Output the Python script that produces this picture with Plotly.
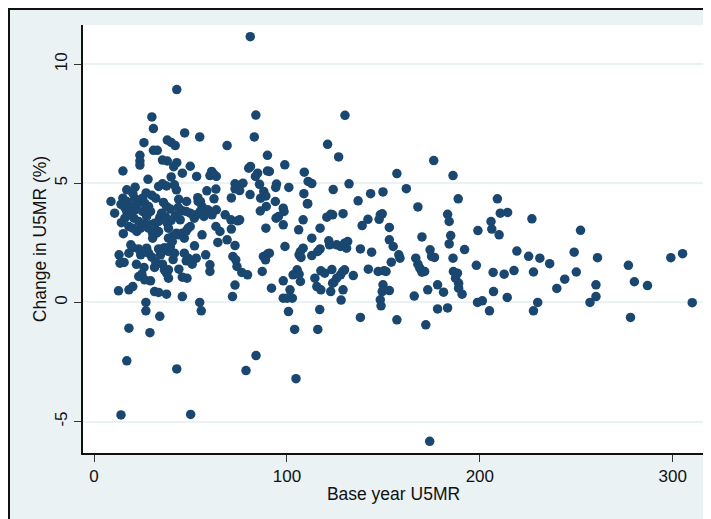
import plotly.graph_objects as go

# Base year under-5 mortality rate (x) and change in U5MR in % (y)
base_u5mr = [
    81.0, 42.9, 30.0, 83.9, 130.1, 30.8, 47.0, 54.8, 83.1, 25.9,
    38.0, 40.0, 42.1, 69.0, 121.1, 30.8, 32.8, 23.8, 23.8, 23.8,
    126.8, 89.9, 35.5, 38.0, 42.9, 41.3, 49.9, 98.9, 176.1, 80.2,
    81.1, 15.0, 45.8, 53.2, 61.0, 62.2, 60.1, 63.4, 84.8, 83.7,
    89.9, 90.9, 109.0, 157.0, 186.1, 40.0, 28.0, 85.8, 111.0, 112.9,
    132.2, 73.1, 75.1, 77.2, 73.1, 75.5, 21.3, 17.0, 33.5, 35.5,
    37.6, 41.7, 42.7, 58.5, 63.2, 94.6, 94.2, 101.0, 124.0, 143.4,
    149.8, 161.9, 80.9, 88.0, 89.1, 108.8, 110.8, 86.4, 71.2, 62.2,
    32.0, 48.0, 43.9, 53.8, 55.2, 136.9, 188.8, 209.1, 8.8, 14.0,
    16.0, 19.1, 25.2, 23.2, 26.3, 94.0, 89.3, 86.2, 98.1, 98.5,
    110.6, 167.9, 10.7, 17.0, 19.1, 21.1, 37.6, 39.6, 43.7, 45.8,
    47.8, 49.9, 56.0, 54.0, 34.1, 42.1, 44.7, 63.4, 61.2, 60.1,
    68.0, 71.0, 74.5, 75.5, 94.4, 95.6, 98.1, 108.4, 120.7, 122.7,
    123.7, 129.1, 148.4, 149.4, 147.8, 142.0, 139.0, 183.3, 184.1, 205.8,
    206.2, 210.6, 214.4, 227.0, 14.2, 15.2, 18.1, 20.1, 22.2, 26.3,
    28.3, 30.4, 32.4, 33.5, 38.0, 38.6, 40.6, 42.7, 45.8, 48.8,
    56.0, 63.2, 65.3, 71.2, 89.1, 106.1, 117.2, 153.1, 199.0, 252.2,
    210.0, 184.9, 184.1, 170.0, 153.1, 155.1, 112.9, 121.7, 122.1, 125.8,
    127.8, 129.9, 131.5, 130.9, 108.4, 107.0, 106.3, 107.3, 99.0, 117.2,
    116.0, 112.9, 64.2, 69.0, 73.1, 52.1, 19.1, 18.1, 13.0, 23.2,
    25.2, 24.2, 27.3, 28.3, 33.5, 34.5, 36.5, 38.6, 41.7, 39.6,
    46.8, 48.8, 47.8, 50.9, 53.0, 57.9, 72.0, 73.5, 74.1, 87.8,
    89.9, 90.9, 88.9, 138.1, 143.9, 166.8, 167.9, 168.9, 170.0, 171.4,
    174.2, 175.0, 176.5, 186.1, 192.1, 158.0, 158.6, 154.1, 219.2, 225.3,
    231.1, 236.2, 248.9, 261.0, 299.0, 305.1, 198.2, 277.0, 13.5, 15.6,
    25.9, 24.8, 23.2, 26.3, 29.3, 31.4, 35.5, 36.5, 38.6, 38.6,
    37.6, 45.8, 48.2, 60.1, 60.1, 76.6, 79.6, 87.2, 105.3, 106.3,
    107.0, 103.2, 98.1, 117.6, 119.6, 123.3, 127.8, 128.9, 129.9, 125.8,
    123.7, 114.5, 115.5, 117.6, 134.4, 142.2, 147.3, 150.4, 151.4, 149.8,
    150.4, 149.4, 153.1, 148.4, 148.8, 186.3, 188.4, 187.4, 189.0, 189.0,
    190.8, 206.9, 212.6, 217.7, 227.8, 250.0, 244.0, 280.1, 286.9, 260.2,
    260.2, 257.1, 239.9, 207.1, 214.2, 198.8, 201.3, 205.0, 230.0, 227.8,
    278.1, 310.1, 178.1, 181.2, 178.1, 183.3, 173.0, 166.0, 172.0, 157.0,
    138.1, 128.1, 129.1, 124.3, 122.7, 117.0, 116.0, 104.0, 100.8, 98.1,
    100.1, 102.8, 101.6, 92.0, 73.1, 71.8, 54.8, 55.6, 45.8, 31.4,
    33.5, 37.6, 26.9, 26.9, 34.1, 18.1, 29.0, 12.7, 18.1, 20.1,
    17.0, 42.9, 78.8, 84.0, 104.7, 14.0, 50.1, 174.0, 15.0, 17.0,
    21.1, 20.1, 22.2, 18.7, 20.7, 23.2, 16.0, 28.3, 29.3, 31.4,
    33.5, 25.2, 27.3, 24.2, 31.4, 30.4, 29.3, 38.6, 40.6, 43.7,
    46.8, 47.8, 49.9, 52.0, 53.0, 55.0, 57.0, 59.0, 35.0, 37.0,
    40.0, 36.0, 30.0, 27.0, 20.0, 22.0, 30.0, 32.0, 44.0, 41.0,
]

change_u5mr = [
    11.16, 8.94, 7.79, 7.87, 7.86, 7.30, 7.12, 6.95, 6.95, 6.71,
    6.82, 6.72, 6.59, 6.59, 6.64, 6.39, 6.39, 6.18, 5.94, 5.77,
    6.11, 6.18, 5.98, 5.94, 5.87, 5.70, 5.72, 5.78, 5.96, 5.64,
    5.71, 5.52, 5.43, 5.29, 5.50, 5.38, 5.33, 5.29, 5.43, 5.29,
    5.52, 5.50, 5.47, 5.41, 5.33, 5.27, 5.17, 4.96, 5.08, 4.99,
    4.98, 4.98, 4.91, 5.01, 4.77, 4.70, 4.84, 4.73, 4.87, 4.98,
    4.89, 4.94, 4.73, 4.69, 4.76, 4.97, 4.83, 4.83, 4.74, 4.57,
    4.64, 4.78, 4.53, 4.66, 4.47, 4.57, 4.15, 4.38, 4.39, 4.35,
    4.38, 4.24, 4.33, 4.40, 4.24, 4.27, 4.35, 4.35, 4.24, 4.12,
    3.98, 4.03, 4.38, 4.24, 4.17, 4.24, 4.03, 3.84, 3.96, 3.82,
    4.14, 4.01, 3.75, 3.82, 3.68, 3.89, 4.03, 3.92, 3.99, 3.85,
    3.82, 3.75, 4.03, 4.24, 3.57, 3.64, 3.47, 3.89, 3.68, 3.82,
    3.68, 3.47, 3.43, 3.47, 3.54, 3.61, 3.26, 3.47, 3.58, 3.70,
    3.68, 3.73, 3.68, 3.72, 3.49, 3.49, 3.23, 3.70, 3.40, 3.40,
    3.08, 3.75, 3.78, 3.51, 3.35, 2.89, 3.19, 3.12, 2.98, 3.28,
    3.12, 2.91, 2.91, 2.98, 3.33, 3.12, 2.77, 2.91, 2.91, 3.12,
    2.84, 3.19, 2.98, 3.08, 3.12, 3.05, 3.12, 3.15, 3.02, 3.03,
    2.84, 2.81, 2.46, 2.75, 2.63, 2.35, 2.70, 2.59, 2.42, 2.42,
    2.35, 2.49, 2.56, 2.28, 2.28, 2.14, 2.00, 1.89, 2.35, 2.25,
    2.14, 1.97, 2.52, 2.63, 2.39, 2.38, 2.42, 2.07, 2.00, 2.24,
    2.14, 2.00, 2.28, 2.07, 2.25, 2.00, 2.30, 2.14, 2.07, 2.35,
    2.07, 1.86, 1.75, 1.61, 1.86, 2.00, 1.93, 1.79, 1.51, 1.93,
    2.03, 2.07, 1.79, 2.25, 2.11, 1.86, 1.61, 1.44, 1.27, 1.30,
    2.21, 1.93, 1.89, 1.86, 2.22, 2.00, 1.86, 1.69, 2.16, 1.94,
    1.86, 1.63, 2.11, 1.88, 1.88, 2.05, 1.56, 1.56, 1.65, 1.68,
    1.47, 1.19, 1.09, 0.95, 0.91, 1.47, 1.61, 1.37, 1.37, 1.02,
    1.23, 1.06, 1.02, 1.58, 1.30, 1.26, 1.16, 1.30, 1.37, 1.19,
    0.88, 1.16, 0.91, 1.33, 1.23, 1.38, 1.16, 1.30, 1.37, 1.02,
    0.81, 1.02, 0.67, 0.53, 1.13, 1.40, 1.30, 1.33, 1.30, 0.74,
    0.53, 0.46, 0.50, 0.11, -0.14, 1.30, 1.23, 1.02, 0.81, 0.60,
    0.35, 1.26, 1.19, 1.34, 1.28, 1.28, 0.98, 0.87, 0.71, 0.74,
    0.25, 0.00, 0.59, 0.46, 0.21, 0.00, 0.07, -0.35, 0.00, -0.35,
    -0.63, -0.01, 0.74, 0.43, -0.27, -0.23, 0.53, 0.27, -0.94, -0.73,
    -0.63, 0.10, 0.53, 0.84, 0.46, -0.30, -1.13, -1.13, -0.38, 0.18,
    0.18, 0.18, 0.53, 0.60, 0.73, 0.25, 0.00, -0.35, 0.25, 0.46,
    0.42, 0.35, 0.00, -0.35, -0.58, -1.08, -1.27, 0.49, 0.53, 0.67,
    -2.45, -2.79, -2.86, -2.23, -3.20, -4.72, -4.70, -5.83, 4.38, 4.24,
    4.38, 4.59, 4.10, 3.89, 3.54, 3.40, 3.54, 4.03, 3.82, 3.33,
    3.40, 3.82, 3.61, 3.12, 3.12, 2.70, 3.26, 2.70, 2.56, 2.84,
    2.70, 3.00, 3.19, 3.54, 3.68, 3.82, 3.61, 3.89, 3.75, 3.60,
    3.45, 4.20, 4.50, 4.60, 2.30, 1.60, 1.90, 1.70, 1.40, 1.80,
]

x_ticks = [0, 100, 200, 300]
y_ticks = [-5, 0, 5, 10]

x_title = "Base year U5MR"
y_title = "Change in U5MR (%)"

MARKER = "#1A476F"
FRAME_BG = "#EAF2F3"
FONT = "Liberation Sans, Arial, sans-serif"

# The page body adds an 8px offset, so the figure is sized to fill the rest
W, H = 703, 511
L, R, T, B = 75, 7, 17, 66
pw, ph = W - L - R, H - T - B


def px_to_paper_x(px):
    return (px - L) / pw


def px_to_paper_y(py):
    return (H - B - py) / ph


fig = go.Figure()
fig.add_trace(go.Scatter(
    x=base_u5mr, y=change_u5mr, mode="markers",
    marker=dict(color=MARKER, size=9.5, line=dict(width=0)),
    hoverinfo="x+y", showlegend=False,
))

# dark frame border along the left and top edges of the graph region
fig.add_shape(type="line", xref="paper", yref="paper", layer="above",
              x0=px_to_paper_x(1), x1=px_to_paper_x(1),
              y0=px_to_paper_y(H + 20), y1=px_to_paper_y(0),
              line=dict(color="#111111", width=2))
fig.add_shape(type="line", xref="paper", yref="paper", layer="above",
              x0=px_to_paper_x(0), x1=px_to_paper_x(W + 20),
              y0=px_to_paper_y(1), y1=px_to_paper_y(1),
              line=dict(color="#111111", width=2))

fig.update_layout(
    width=W, height=H,
    margin=dict(l=L, r=R, t=T, b=B),
    paper_bgcolor=FRAME_BG,
    plot_bgcolor="white",
    font=dict(family=FONT, size=17, color="#111111"),
    xaxis=dict(
        range=[-5.7, 316.2], tickvals=x_ticks, ticktext=[str(v) for v in x_ticks],
        showgrid=False, zeroline=False,
        showline=True, linecolor="#111111", linewidth=1.5,
        ticks="outside", ticklen=7, tickwidth=1.2, tickcolor="#333333",
        tickfont=dict(size=17),
        title=dict(text=x_title, font=dict(size=17.5), standoff=3),
        automargin=False,
    ),
    yaxis=dict(
        range=[-6.32, 11.65], tickvals=y_ticks, ticktext=[str(v) for v in y_ticks],
        tickangle=-90,
        showgrid=True, gridcolor=FRAME_BG, gridwidth=2,
        zeroline=False,
        showline=True, linecolor="#111111", linewidth=1.5,
        ticks="outside", ticklen=7, tickwidth=1.2, tickcolor="#333333",
        tickfont=dict(size=17),
        title=dict(text=y_title, font=dict(size=17.5), standoff=1),
        automargin=False,
    ),
)

fig.write_html("out.html")
